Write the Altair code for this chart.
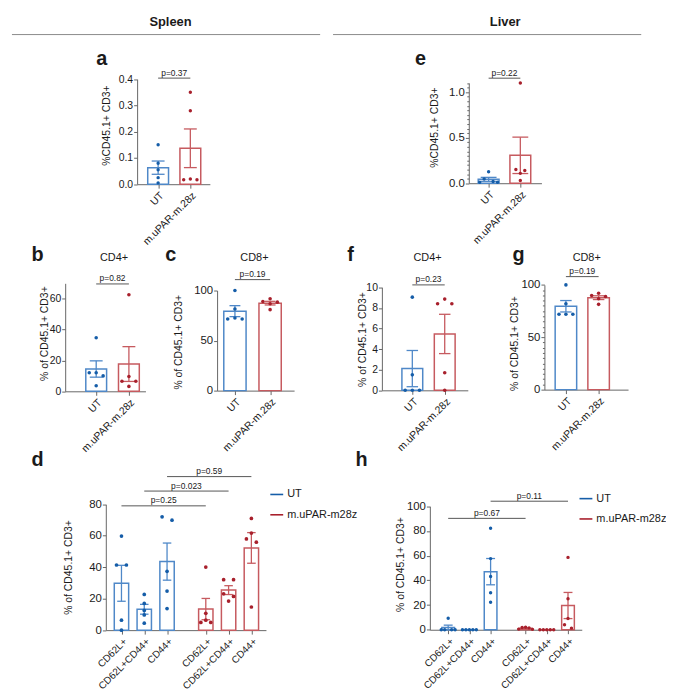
import json
import altair as alt
import numpy as np
import pandas as pd

# ---------------- data ----------------
ARMS = ["UT", "m.uPAR-m.28z"]
LEGEND_ARMS = ["UT", "m.uPAR-m28z"]
SUBSETS = ["CD62L+", "CD62L+CD44+", "CD44+"]

# Spleen
a_ut = [0.15, 0.08, 0.055, 0.025, 0.005]
a_car = [0.35, 0.28, 0.02, 0.017, 0.017]
b_ut = [34.7, 12.0, 12.0, 10.0, 3.6]
b_car = [62.6, 9.6, 6.5, 6.5, 3.2]
c_ut = [100.0, 81.5, 72.5, 71.5, 71.5]
c_car = [91.8, 89.1, 88.4, 86.8, 80.9]
d_ut = [[59.8, 41.4, 41.4, 6.3, 0.0],
        [22.7, 17.0, 12.5, 9.7, 4.4],
        [72.0, 69.9, 37.4, 24.8, 13.7]]
d_car = [[40.1, 10.7, 6.3, 4.9, 4.9],
         [32.1, 32.1, 23.1, 21.4, 18.5],
         [71.0, 61.7, 58.0, 55.9, 14.7]]
# Liver
e_ut = [0.125, 0.047, 0.018, 0.011, 0.011]
e_car = [1.10, 0.151, 0.14, 0.108, 0.03]
f_ut = [9.04, 1.5, 0.0, 0.0, 0.0]
f_car = [8.85, 8.4, 8.4, 1.7, 0.0]
g_ut = [100.0, 82.0, 72.0, 72.0, 72.0]
g_car = [92.0, 89.9, 88.9, 86.8, 81.4]
h_ut = [[9.3, 0.0, 0.0, 0.0, 0.0],
        [0.0, 0.0, 0.0, 0.0, 0.0],
        [82.2, 57.6, 43.1, 30.0, 22.3]]
h_car = [[2.0, 1.8, 1.5, 0.5, 0.3],
         [0.0, 0.0, 0.0, 0.0, 0.0],
         [58.6, 25.1, 9.1, 4.0, 1.3]]

# p-value brackets: (label, from group, to group, height in data units)
p_a = [("p=0.37", 0, 1, 0.404)]
p_b = [("p=0.82", 0, 1, 69.6)]
p_c = [("p=0.19", 0, 1, 110.9)]
p_d = [("p=0.25", 0, 3, 79.0), ("p=0.023", 1, 4, 88.4), ("p=0.59", 2, 5, 97.6)]
p_e = [("p=0.22", 0, 1, 1.152)]
p_f = [("p=0.23", 0, 1, 10.23)]
p_g = [("p=0.19", 0, 1, 107.9)]
p_h = [("p=0.67", 0, 3, 90.2), ("p=0.11", 2, 5, 104.1)]

# ---------------- style / layout ----------------
W, H = 664, 682
OX = OY = 8
UT_PT, CAR_PT = "#155da8", "#a8202c"
UT_BAR, CAR_BAR = "#4f88c8", "#c65a5f"
INK = "#1a1a1a"
AXC = "#666666"
FONT = "Liberation Sans"
T1 = "%CD45.1+ CD3+"
T2 = "% of CD45.1+ CD3+"

L = {
    "a": dict(yx=138.3, y0=182.7, yref=(0.4, 76.7), ydom=(0, 0.4), ticks=[0, 0.1, 0.2, 0.3, 0.4], fmt=".1f",
              minor=None, xend=211.7, c0=159.5, step=32.5, bw=21, cap=6.5, sp=6.7, pt=12,
              title=T1, tcx=107, tcy=123, fs=10.5, xfs=10.5),
    "b": dict(yx=65.7, y0=391.7, yref=(60, 298.3), ydom=(0, 70), ticks=[0, 20, 40, 60], fmt="d",
              minor=None, xend=146.7, c0=97, step=33, bw=21, cap=6.5, sp=7, pt=13,
              title=T2, tcx=44.5, tcy=333, fs=10.5, xfs=10.5),
    "c": dict(yx=219, y0=391, yref=(100, 290), ydom=(0, 100), ticks=[0, 50, 100], fmt="d",
              minor=None, xend=296.7, c0=237, step=35.5, bw=22.5, cap=5.5, sp=7.3, pt=13,
              title=T2, tcx=180, tcy=341.7, fs=11.5, xfs=10.5),
    "d": dict(yx=106.7, y0=632.7, yref=(80, 505.7), ydom=(0, 80), ticks=[0, 20, 40, 60, 80], fmt="d",
              minor=None, xend=268.3, c0=122.5, step=23, gap=3.7, bw=14.5, cap=4.3, sp=5, pt=14,
              title=T2, tcx=69, tcy=569, fs=11.5, xfs=10),
    "e": dict(yx=473, y0=181.7, yref=(1.0, 89.7), ydom=(0, 1.1), ticks=[0, 0.5, 1.0], fmt=".1f",
              minor=0.05, xend=546.3, c0=493, step=32, bw=21, cap=8, sp=4.5, pt=12,
              title=T1, tcx=438.7, tcy=125, fs=11.5, xfs=10.5),
    "f": dict(yx=385.3, y0=390.7, yref=(10, 286.7), ydom=(0, 10), ticks=[0, 2, 4, 6, 8, 10], fmt="d",
              minor=None, xend=472, c0=416, step=32.7, bw=21, cap=5.8, sp=7.2, pt=13,
              title=T2, tcx=366, tcy=339, fs=10.5, xfs=10.5),
    "g": dict(yx=549.3, y0=390, yref=(100, 284.3), ydom=(0, 100), ticks=[0, 50, 100], fmt="d",
              minor=5, xend=633.7, c0=571, step=33, bw=21.7, cap=5.8, sp=7, pt=13,
              title=T2, tcx=518.7, tcy=343, fs=11.5, xfs=10.5),
    "h": dict(yx=433.7, y0=632.3, yref=(100, 507.7), ydom=(0, 100), ticks=[0, 20, 40, 60, 80, 100], fmt="d",
              minor=None, xend=587, c0=452.2, step=21.4, gap=3.65, bw=12.8, cap=4.5, sp=3.5, pt=12,
              title=T2, tcx=404.5, tcy=566, fs=11.5, xfs=10),
}


def swarm(vals, ppu, s, thr=3.5):
    """GraphPad-like scatter: points closer than thr px share a row and are spread sideways."""
    order = sorted(range(len(vals)), key=lambda i: -vals[i])
    rows = []
    for i in order:
        if rows and (vals[rows[-1][0]] - vals[i]) * ppu < thr:
            rows[-1].append(i)
        else:
            rows.append([i])
    offs = [0.0] * len(vals)
    for r in rows:
        n = len(r)
        slots = ([0] if n % 2 else []) + [k * sg for k in range(1, n + 1) for sg in (-1, 1)]
        for j, i in enumerate(r):
            offs[i] = slots[j] * s
    return offs


def two_arm(ut, car):
    return [(ARMS[0], ARMS[0], 0, ut), (ARMS[1], ARMS[1], 1, car)]


def subset_series(ut, car, gap):
    out = [(ARMS[0], SUBSETS[i], i, ut[i]) for i in range(3)]
    out += [(ARMS[1], SUBSETS[i], gap + i, car[i]) for i in range(3)]
    return out


def panel_layers(P, series, brackets):
    step = P["step"]
    ppu = (P["y0"] - P["yref"][1]) / (P["yref"][0] - P["ydom"][0])
    top = P["y0"] - (P["ydom"][1] - P["ydom"][0]) * ppu
    xlo = (P["yx"] - P["c0"]) / step
    xhi = (P["xend"] - P["c0"]) / step

    def xsc():
        return alt.Scale(domain=[xlo, xhi], range=[P["yx"] - OX, P["xend"] - OX], zero=False, nice=False)

    def ysc():
        return alt.Scale(domain=list(P["ydom"]), range=[P["y0"] - OY, top - OY], zero=False, nice=False)

    csc = alt.Scale(domain=ARMS, range=[UT_PT, CAR_PT])
    ssc = alt.Scale(domain=ARMS, range=[UT_BAR, CAR_BAR])

    pts, bars, caps = [], [], []
    hw = P["bw"] / 2 / step
    cw = P["cap"] / step
    for arm, lab, pos, vals in series:
        offs = swarm(vals, ppu, P["sp"])
        for v, o in zip(vals, offs):
            pts.append(dict(arm=arm, cat=lab, value=v, xp=pos + o / step))
        m = float(np.mean(vals))
        se = float(np.std(vals, ddof=1) / np.sqrt(len(vals)))
        bars.append(dict(arm=arm, cat=lab, pos=pos, mean=m, lo=m - se, hi=m + se, zero=0.0,
                         bx1=pos - hw, bx2=pos + hw))
        for yv in (m - se, m + se):
            caps.append(dict(arm=arm, y=yv, cx1=pos - cw, cx2=pos + cw))
    pdf, bdf, cdf = pd.DataFrame(pts), pd.DataFrame(bars), pd.DataFrame(caps)
    positions = [s[2] for s in series]
    labels = [s[1] for s in series]
    brdf = pd.DataFrame([dict(label=t, x1=positions[i], x2=positions[j],
                              xm=(positions[i] + positions[j]) / 2, level=lv)
                         for t, i, j, lv in brackets])

    yaxis = alt.Axis(orient="left", offset=-(P["yx"] - OX), values=P["ticks"], format=P["fmt"],
                     title=P["title"], titleX=P["tcx"] - P["yx"], titleY=P["tcy"] - OY,
                     titleAngle=270, titleAlign="center", titleBaseline="middle", titleFontSize=10.5,
                     titleFontWeight="normal", titleColor=INK,
                     labelFontSize=P["fs"], labelPadding=1, tickSize=3.5, labelFlush=False,
                     labelOverlap=False, grid=False)
    lexpr = f"{json.dumps(labels)}[indexof({json.dumps(positions)}, datum.value)]"
    xaxis = alt.Axis(orient="bottom", offset=(P["y0"] - OY) - H, values=positions, labelExpr=lexpr,
                     labelAngle=315, labelAlign="right", labelBaseline="top", labelFontSize=P["xfs"],
                     labelPadding=2, tickSize=4, labelFlush=False, labelOverlap=False,
                     title=None, grid=False)

    layers = []
    layers.append(alt.Chart(bdf).mark_bar(fill="white", strokeWidth=1.5).encode(
        x=alt.X("bx1:Q", scale=xsc(), axis=None), x2="bx2:Q",
        y=alt.Y("mean:Q", scale=ysc(), axis=yaxis), y2="zero:Q",
        stroke=alt.Stroke("arm:N", scale=ssc, legend=None)))
    layers.append(alt.Chart(bdf).mark_rule(strokeWidth=1.3).encode(
        x=alt.X("pos:Q", scale=xsc(), axis=None),
        y=alt.Y("lo:Q", scale=ysc(), axis=None), y2="hi:Q",
        stroke=alt.Stroke("arm:N", scale=ssc, legend=None)))
    layers.append(alt.Chart(cdf).mark_rule(strokeWidth=1.3).encode(
        x=alt.X("cx1:Q", scale=xsc(), axis=None), x2="cx2:Q",
        y=alt.Y("y:Q", scale=ysc(), axis=None),
        stroke=alt.Stroke("arm:N", scale=ssc, legend=None)))
    layers.append(alt.Chart(pdf).mark_circle(size=P["pt"], opacity=1).encode(
        x=alt.X("xp:Q", scale=xsc(), axis=xaxis),
        y=alt.Y("value:Q", scale=ysc(), axis=None),
        color=alt.Color("arm:N", scale=csc, legend=None)))
    layers.append(alt.Chart(brdf).mark_rule(color="#555555", strokeWidth=1).encode(
        x=alt.X("x1:Q", scale=xsc(), axis=None), x2="x2:Q",
        y=alt.Y("level:Q", scale=ysc(), axis=None)))
    if P["minor"]:
        mv = P["minor"]
        n = int(round((P["ydom"][1] - P["ydom"][0]) / mv))
        minor_vals = [round(k * mv, 4) for k in range(1, n + 1)]
        minor_vals = [v for v in minor_vals if all(abs(v - t) > 1e-6 for t in P["ticks"])]
        yminor = alt.Axis(orient="left", offset=-(P["yx"] - OX), values=minor_vals, labels=False,
                          domain=False, ticks=True, tickSize=2, title=None, grid=False)
    else:
        yminor = None
    layers.append(alt.Chart(brdf).mark_text(fontSize=8.5, dy=-5.5, color=INK, baseline="middle").encode(
        x=alt.X("xm:Q", scale=xsc(), axis=None),
        y=alt.Y("level:Q", scale=ysc(), axis=yminor),
        text="label:N"))
    return layers


def legend_layer(lx, ly):
    return alt.Chart(alt.Data(values=[])).mark_rule(strokeWidth=1.6).encode(
        x=alt.value(0), y=alt.value(0),
        color=alt.Color("arm:N", scale=alt.Scale(domain=LEGEND_ARMS, range=[UT_PT, CAR_PT]),
                        legend=alt.Legend(orient="none", legendX=lx - OX, legendY=ly - OY, title=None,
                                          symbolType="stroke", symbolSize=169, symbolStrokeWidth=1.6,
                                          labelFontSize=11, labelColor=INK, labelOffset=3,
                                          rowPadding=7.5, padding=0)))


ONE = alt.Data(values=[{}])


def text_at(t, x, y, size, weight="normal", align="center", baseline="middle"):
    return alt.Chart(ONE).mark_text(text=t, fontSize=size, fontWeight=weight, align=align,
                                    baseline=baseline, color=INK).encode(
        x=alt.value(x - OX), y=alt.value(y - OY))


def hline(x1, x2, y):
    return alt.Chart(ONE).mark_rule(color="#8a8a8a", strokeWidth=1).encode(
        x=alt.value(x1 - OX), x2=alt.value(x2 - OX), y=alt.value(y - OY))


layers = []
layers += panel_layers(L["a"], two_arm(a_ut, a_car), p_a)
layers += panel_layers(L["b"], two_arm(b_ut, b_car), p_b)
layers += panel_layers(L["c"], two_arm(c_ut, c_car), p_c)
layers += panel_layers(L["d"], subset_series(d_ut, d_car, L["d"]["gap"]), p_d)
layers += panel_layers(L["e"], two_arm(e_ut, e_car), p_e)
layers += panel_layers(L["f"], two_arm(f_ut, f_car), p_f)
layers += panel_layers(L["g"], two_arm(g_ut, g_car), p_g)
layers += panel_layers(L["h"], subset_series(h_ut, h_car, L["h"]["gap"]), p_h)
layers.append(legend_layer(271.7, 488.3))
layers.append(legend_layer(583.7, 492.5))

# headers, rules, panel letters and sub-titles
layers += [
    text_at("Spleen", 172, 19, 13, "bold"),
    text_at("Liver", 509.7, 19, 13, "bold"),
    hline(12, 323, 31.7),
    hline(336, 647, 31.7),
]
for letter, x, y in [("a", 97, 62.7), ("e", 418.7, 62.7), ("b", 31.7, 260.7), ("c", 166.7, 260.7),
                     ("f", 350.3, 260.7), ("g", 517, 260.2), ("d", 31.7, 466.7), ("h", 358.7, 466.7)]:
    layers.append(text_at(letter, x, y, 20, "bold", align="left", baseline="alphabetic"))
for t, x in [("CD4+", 115), ("CD8+", 256.7), ("CD4+", 431.3), ("CD8+", 592)]:
    layers.append(text_at(t, x, 256.7, 11))

chart = alt.layer(*layers).resolve_scale(
    x="independent", y="independent", color="independent", stroke="independent"
).properties(
    width=W, height=H, padding=0, autosize=alt.AutoSizeParams(type="none")
).configure(font=FONT, background="white").configure_view(stroke=None).configure_axis(
    domainColor=AXC, tickColor=AXC, labelColor=INK, domainWidth=1, tickWidth=1,
    labelFont=FONT, titleFont=FONT
).configure_legend(labelFont=FONT)

chart.save("out.html", embed_options={"renderer": "svg", "actions": False})
